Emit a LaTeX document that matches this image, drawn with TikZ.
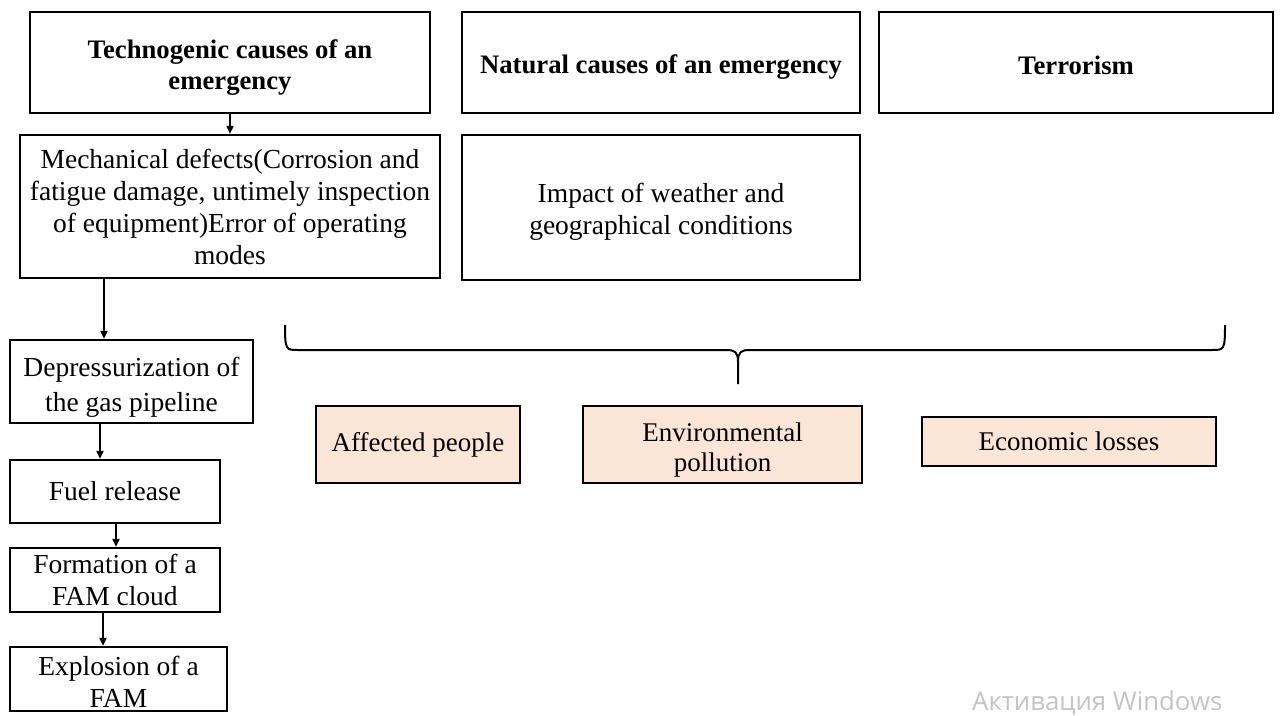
\documentclass[tikz,border=0pt]{standalone}
\usepackage{fontspec}
\setmainfont{Liberation Serif}
\newfontfamily\wmfont{Open Sans}
\usetikzlibrary{arrows.meta}
\definecolor{peach}{HTML}{FBE5D6}
\definecolor{wmgray}{HTML}{C4C4C4}
\begin{document}
\begin{tikzpicture}[x=1pt,y=-1pt,
  box/.style={draw, line width=2.2pt, align=center, inner sep=0pt,
    font=\fontsize{27.5}{32}\selectfont},
  title/.style={box, font=\bfseries\fontsize{26.7}{31}\selectfont},
  result/.style={box, fill=peach, font=\fontsize{27}{30}\selectfont},
  arr/.style={line width=1.8pt, -{Triangle[length=8pt,width=7pt]}},
  bracepath/.style={line width=2pt}
]
\useasboundingbox (0,0) rectangle (1285,715);

% top row
\node[title, minimum width=400pt, minimum height=101pt, text height=59.5pt] (tech) at (230,62.5) {Technogenic causes of an\\emergency};
\node[title, minimum width=398pt, minimum height=101pt, text height=27pt] (nat) at (661,62.5) {Natural causes of an emergency};
\node[title, minimum width=394pt, minimum height=101pt, text height=25pt] (ter) at (1076,62.5) {Terrorism};

% second row
\node[box, minimum width=420pt, minimum height=143pt] (mech) at (230,206.5) {Mechanical defects(Corrosion and\\fatigue damage, untimely inspection\\of equipment)Error of operating\\modes};
\node[box, minimum width=398pt, minimum height=145pt, text height=59pt] (imp) at (661,207.5) {Impact of weather and\\geographical conditions};

% left chain
\node[box, minimum width=243pt, minimum height=83pt, font=\fontsize{27.5}{35}\selectfont, text height=65pt] (dep) at (131.5,381.5) {Depressurization of\\the gas pipeline};
\node[box, minimum width=210pt, minimum height=63pt] (fuel) at (115,491.5) {Fuel release};
\node[box, minimum width=210pt, minimum height=64pt] (form) at (115,580) {Formation of a\\FAM cloud};
\node[box, minimum width=217pt, minimum height=64pt, text height=57pt] (expl) at (118.5,679) {Explosion of a\\FAM};

% consequences
\node[result, minimum width=204pt, minimum height=77pt] (aff) at (418,444.5) {Affected people};
\node[result, minimum width=279pt, minimum height=77pt, text height=60pt] (env) at (722.5,444.5) {Environmental\\pollution};
\node[result, minimum width=294pt, minimum height=49pt] (eco) at (1069,441.5) {Economic losses};

% arrows
\coordinate (x1) at (104,0);
\coordinate (x2) at (100,0);
\coordinate (x3) at (116,0);
\coordinate (x4) at (103,0);
\draw[arr] (tech.south) -- (mech.north);
\draw[arr] (mech.south -| x1) -- (dep.north -| x1);
\draw[arr] (dep.south -| x2) -- (fuel.north -| x2);
\draw[arr] (fuel.south -| x3) -- (form.north -| x3);
\draw[arr] (form.south -| x4) -- (expl.north -| x4);

% brace
\draw[bracepath] (285,325) .. controls (285,350) and (286,350) .. (298,350)
  -- (726,350) .. controls (735,350) and (738,352) .. (738,362) -- (738,384);
\draw[bracepath] (738,362) .. controls (738,352) and (741,350) .. (750,350)
  -- (1212,350) .. controls (1224,350) and (1225,350) .. (1225,325);

% watermark
\node[font=\wmfont\fontsize{25.8}{30}\selectfont, text=wmgray, anchor=west, inner sep=0pt] (wm) at (972,703) {Активация Windows};
\end{tikzpicture}
\end{document}
